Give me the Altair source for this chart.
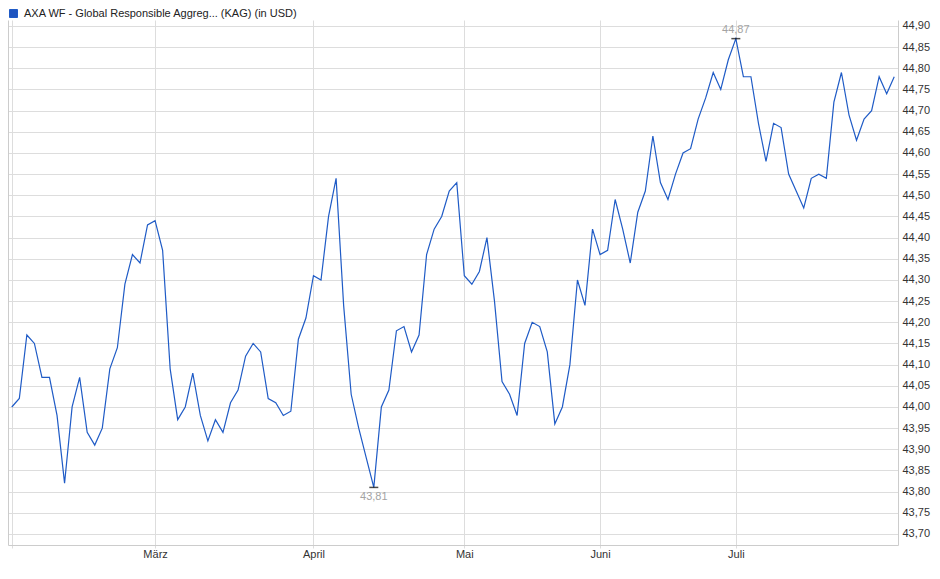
import altair as alt
import pandas as pd

# ---- data ----
series_name = "AXA WF - Global Responsible Aggreg... (KAG) (in USD)"
prices = [
    44.00, 44.02, 44.17, 44.15, 44.07, 44.07, 43.98, 43.82, 44.00, 44.07,
    43.94, 43.91, 43.95, 44.09, 44.14, 44.29, 44.36, 44.34, 44.43, 44.44,
    44.37, 44.09, 43.97, 44.00, 44.08, 43.98, 43.92, 43.97, 43.94, 44.01,
    44.04, 44.12, 44.15, 44.13, 44.02, 44.01, 43.98, 43.99, 44.16, 44.21,
    44.31, 44.30, 44.45, 44.54, 44.24, 44.03, 43.95, 43.88, 43.81, 44.00,
    44.04, 44.18, 44.19, 44.13, 44.17, 44.36, 44.42, 44.45, 44.51, 44.53,
    44.31, 44.29, 44.32, 44.40, 44.25, 44.06, 44.03, 43.98, 44.15, 44.20,
    44.19, 44.13, 43.96, 44.00, 44.10, 44.30, 44.24, 44.42, 44.36, 44.37,
    44.49, 44.42, 44.34, 44.46, 44.51, 44.64, 44.53, 44.49, 44.55, 44.60,
    44.61, 44.68, 44.73, 44.79, 44.75, 44.82, 44.87, 44.78, 44.78, 44.67,
    44.58, 44.67, 44.66, 44.55, 44.51, 44.47, 44.54, 44.55, 44.54, 44.72,
    44.79, 44.69, 44.63, 44.68, 44.70, 44.78, 44.74, 44.78,
]
month_labels = ["März", "April", "Mai", "Juni", "Juli"]
month_positions = [19, 40, 60, 78, 96]
grid_positions = [0, 19, 40, 60, 78, 96]
y_tick_values = [
    43.70, 43.75, 43.80, 43.85, 43.90, 43.95, 44.00, 44.05, 44.10, 44.15,
    44.20, 44.25, 44.30, 44.35, 44.40, 44.45, 44.50, 44.55, 44.60, 44.65,
    44.70, 44.75, 44.80, 44.85, 44.90,
]

FONT = "Liberation Sans"
LINE_BLUE = "#1f5bc6"
GRID = "#dddddd"
FRAME = "#cccccc"
LABEL = "#333333"

df = pd.DataFrame({"i": list(range(len(prices))), "v": prices, "s": series_name})

i_max = prices.index(max(prices))
i_min = prices.index(min(prices))
ann = pd.DataFrame({
    "i": [i_max, i_min],
    "v": [prices[i_max], prices[i_min]],
})
ann_max = pd.DataFrame({"i": [i_max], "v": [prices[i_max]],
                        "lab": [f"{prices[i_max]:.2f}".replace(".", ",")]})
ann_min = pd.DataFrame({"i": [i_min], "v": [prices[i_min]],
                        "lab": [f"{prices[i_min]:.2f}".replace(".", ",")]})

# label expression for the month axis
expr = "''"
for pos, name in zip(month_positions, month_labels):
    expr = f"datum.value == {pos} ? '{name}' : ({expr})"

x_scale = alt.Scale(domain=[-0.5, len(prices) - 0.5], nice=False, zero=False)
y_scale = alt.Scale(domain=[43.674, 44.914], nice=False, zero=False)

x_enc = alt.X(
    "i:Q",
    scale=x_scale,
    title="",
    axis=alt.Axis(
        values=grid_positions,
        labelExpr=expr,
        grid=True,
        gridColor=GRID,
        gridWidth=1,
        tickSize=3,
        tickColor=GRID,
        domain=True,
        domainColor=FRAME,
        labelPadding=0,
        labelFont=FONT,
        labelFontSize=11,
        labelColor=LABEL,
        labelBaseline="top",
    ),
)

line = alt.Chart(df).mark_line(strokeWidth=1.2, interpolate="linear").encode(
    x=x_enc,
    y=alt.Y(
        "v:Q",
        scale=y_scale,
        title="",
        axis=alt.Axis(
            orient="right",
            values=y_tick_values,
            labelExpr="replace(format(datum.value, '.2f'), '.', ',')",
            grid=True,
            gridColor=GRID,
            gridWidth=1,
            ticks=False,
            domain=True,
            domainColor=FRAME,
            labelPadding=4,
            labelFont=FONT,
            labelFontSize=11,
            labelColor=LABEL,
        ),
    ),
    color=alt.Color(
        "s:N",
        scale=alt.Scale(range=[LINE_BLUE]),
        legend=alt.Legend(
            title=None,
            orient="none",
            legendX=0,
            legendY=-12,
            symbolType="square",
            symbolSize=64,
            symbolFillColor="#1f55c0",
            symbolStrokeColor="#0d2a6e",
            symbolStrokeWidth=1,
            labelFont=FONT,
            labelFontSize=11,
            labelColor="#222222",
            labelLimit=700,
            labelOffset=5,
            padding=0,
        ),
    ),
)

marks = alt.Chart(ann).mark_tick(
    orient="horizontal", size=9, thickness=1.5, color="black"
).encode(
    x=x_enc,
    y=alt.Y(
        "v:Q",
        scale=y_scale,
        title="",
        axis=alt.Axis(
            orient="left",
            labels=False,
            ticks=False,
            grid=False,
            domain=True,
            domainColor=FRAME,
        ),
    ),
)

text_max = alt.Chart(ann_max).mark_text(
    font=FONT, fontSize=11, color="#a3a3a3", baseline="middle", align="center", dy=-9
).encode(
    x=x_enc,
    y=alt.Y("v:Q", scale=y_scale, axis=None),
    text="lab:N",
)

text_min = alt.Chart(ann_min).mark_text(
    font=FONT, fontSize=11, color="#a3a3a3", baseline="middle", align="center", dy=10
).encode(
    x=x_enc,
    y=alt.Y("v:Q", scale=y_scale, axis=None),
    text="lab:N",
)

chart = (
    alt.layer(line, marks, text_max, text_min)
    .resolve_axis(y="independent")
    .properties(
        width=890,
        height=525,
        autosize=alt.AutoSizeParams(type="none"),
        padding={"left": 0, "top": 12, "right": 34, "bottom": 26},
        background="white",
    )
    .configure_view(strokeWidth=0)
)

chart.save("out.html", embed_options={"renderer": "svg", "actions": False})
